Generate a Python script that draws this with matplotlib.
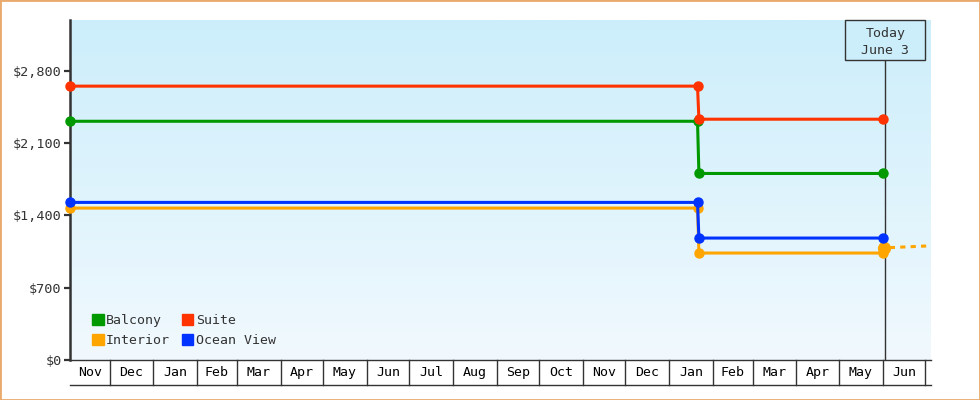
import datetime as dt

import matplotlib
matplotlib.use("Agg")
import matplotlib.pyplot as plt
import matplotlib.dates as mdates
import numpy as np
import pandas as pd
from matplotlib.colors import LinearSegmentedColormap
from matplotlib.patches import Patch, Rectangle

plt.rcParams["font.family"] = ["DejaVu Sans Mono", "DejaVu Sans"]

# date range shown and "today"
x_start = dt.date(2021, 11, 3)
x_end = dt.date(2023, 7, 5)
today = dt.date(2023, 6, 3)

# price history (step at the January price drop)
step_dates = [dt.date(2021, 11, 3), dt.date(2023, 1, 21), dt.date(2023, 1, 22), dt.date(2023, 6, 1)]
balcony = [2310, 2310, 1805, 1805]
suite = [2650, 2650, 2330, 2330]
ocean_view = [1525, 1525, 1180, 1180]
interior_dates = step_dates + [dt.date(2023, 6, 2)]
interior = [1470, 1470, 1035, 1035, 1085]
forecast_dates = [dt.date(2023, 6, 2), dt.date(2023, 7, 5)]
interior_forecast = [1085, 1105]

yticks = [0, 700, 1400, 2100, 2800]
ytick_labels = ["$0", "$700", "$1,400", "$2,100", "$2,800"]
y_max = 3290

c_balcony = "#009900"
c_suite = "#ff3300"
c_interior = "#ffa500"
c_ocean = "#0033ff"
dark = "#333333"
bg_top = "#cceefb"
bg_bottom = "#f1f9fe"

fig = plt.figure(figsize=(9.8, 4.0), dpi=100)
ax_w_px = 860.7
ax_h_px = 340.0
ax = fig.add_axes([70 / 980, 40 / 400, ax_w_px / 980, ax_h_px / 400])

# gradient background
cmap = LinearSegmentedColormap.from_list("bg", [bg_top, bg_bottom])
ax.imshow(np.linspace(0, 1, 256).reshape(-1, 1), cmap=cmap, extent=[0, 1, 0, 1],
          transform=ax.transAxes, aspect="auto", zorder=0)

lw = 2.2
ms = 6.5
ax.plot(interior_dates, interior, color=c_interior, lw=lw, marker="o", ms=ms, clip_on=False, zorder=3)
ax.plot(interior_dates[-1:], interior[-1:], color=c_interior, marker="o", ms=8.5, clip_on=False, zorder=3)
ax.plot(forecast_dates, interior_forecast, color=c_interior, lw=lw, ls=(1.5, (1.7, 1.7)), zorder=3)
ax.plot(step_dates, balcony, color=c_balcony, lw=lw, marker="o", ms=ms, clip_on=False, zorder=3)
ax.plot(step_dates, ocean_view, color=c_ocean, lw=lw, marker="o", ms=ms, clip_on=False, zorder=3)
ax.plot(step_dates, suite, color=c_suite, lw=lw, marker="o", ms=ms, clip_on=False, zorder=3)

x0 = mdates.date2num(x_start)
x1 = mdates.date2num(x_end)
ax.set_xlim(x0, x1)
ax.set_ylim(0, y_max)

for s in ["top", "right"]:
    ax.spines[s].set_visible(False)
ax.spines["left"].set_color(dark)
ax.spines["left"].set_linewidth(1.8)
ax.spines["left"].set_zorder(2)
ax.spines["bottom"].set_color(dark)
ax.spines["bottom"].set_linewidth(1.0)

ax.set_yticks(yticks)
ax.set_yticklabels(ytick_labels)
ax.tick_params(axis="y", length=4, width=1.6, color=dark, labelcolor=dark, labelsize=9.7, pad=2)
ax.set_xticks([])

# month cells under the axis
trans = ax.get_xaxis_transform()
cell_h = 25 / ax_h_px
bounds = [x0] + [mdates.date2num(d) for d in pd.date_range("2021-12-01", "2023-07-01", freq="MS")] + [x1]
ax.plot([x0, x1], [-cell_h, -cell_h], transform=trans, color=dark, lw=1, clip_on=False)
for b in bounds[1:-1]:
    ax.plot([b, b], [0, -cell_h], transform=trans, color=dark, lw=1, clip_on=False)
for a, b in zip(bounds[:-1], bounds[1:]):
    if b - a < 15:
        continue
    label = mdates.num2date(a + 1).strftime("%b")
    ax.text((a + b) / 2, -cell_h / 2, label, transform=trans, ha="center", va="center",
            fontsize=9.5, color="black")

# today marker
t = mdates.date2num(today)
days_per_px = (x1 - x0) / ax_w_px
box_h = 40 / ax_h_px
ax.axvline(t, ymin=0, ymax=1 - box_h, color=dark, lw=1, zorder=2)
ax.add_patch(Rectangle((t - 40 * days_per_px, 1 - box_h), 80 * days_per_px, box_h, transform=trans,
                       facecolor=bg_top, edgecolor=dark, lw=1, zorder=4, clip_on=False))
ax.text(t, 1 - box_h / 2 - 0.006, "Today\nJune 3", transform=trans, ha="center", va="center",
        fontsize=9.5, color=dark, linespacing=1.45, zorder=5)

# legend
handles = [Patch(color=c_balcony, label="Balcony"), Patch(color=c_interior, label="Interior"),
           Patch(color=c_suite, label="Suite"), Patch(color=c_ocean, label="Ocean View")]
leg = ax.legend(handles=handles, ncol=2, loc="lower left", bbox_to_anchor=(0.026, 0.038),
                frameon=False, fontsize=9.5, handlelength=0.85, handleheight=0.85,
                handletextpad=0.2, columnspacing=0.9, labelspacing=0.55, borderpad=0,
                borderaxespad=0)
for txt in leg.get_texts():
    txt.set_color(dark)

# outer border
fig.add_artist(Rectangle((0, 0), 1, 1, transform=fig.transFigure, fill=False,
                         edgecolor="#e9aa6b", lw=2))

fig.savefig("out.png", dpi=100)
